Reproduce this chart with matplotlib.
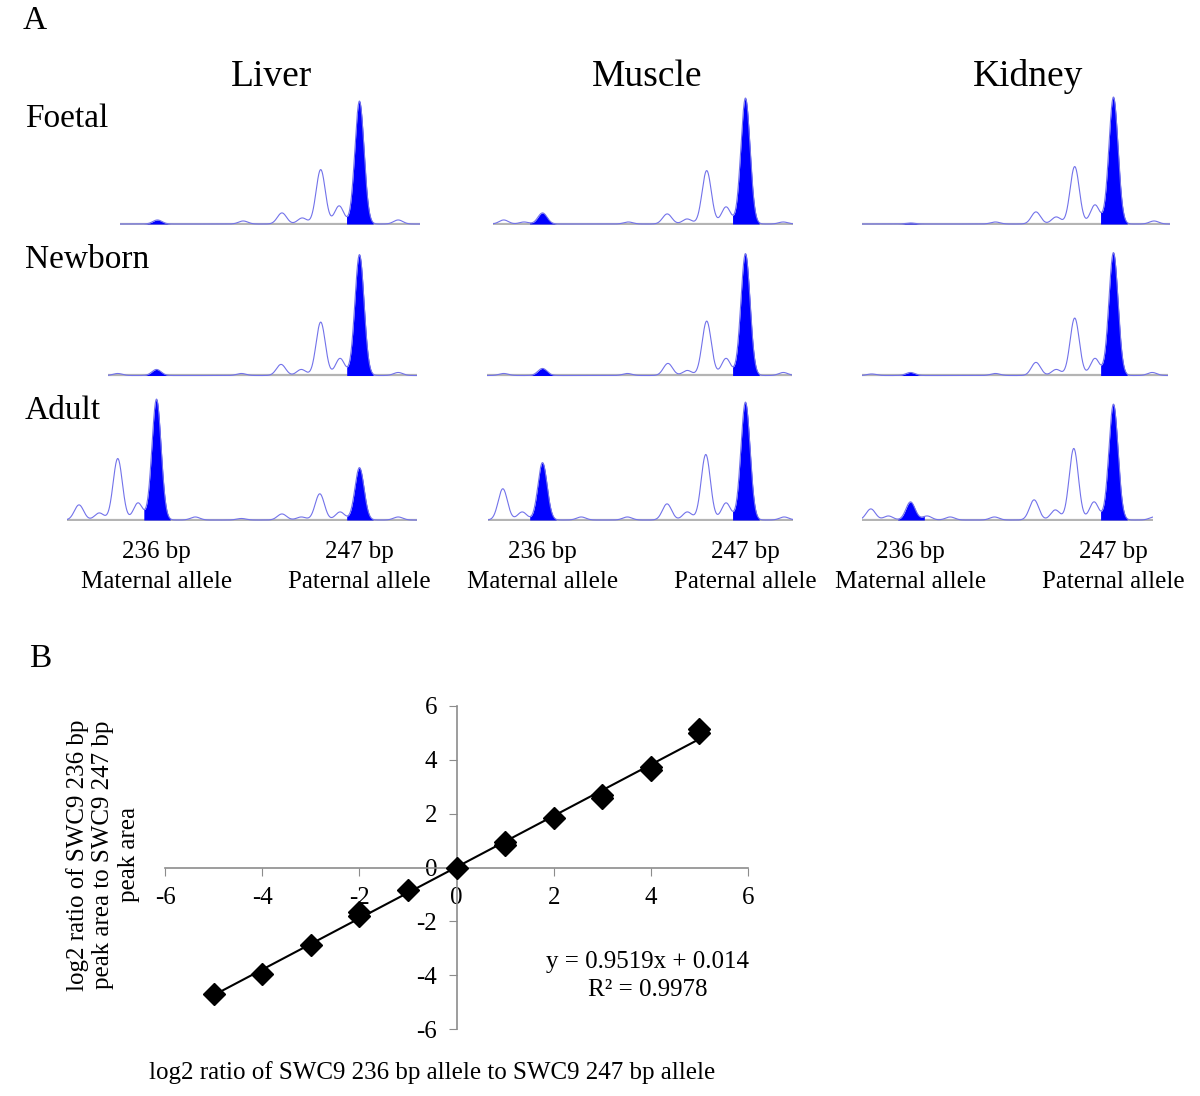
import numpy as np
import matplotlib
matplotlib.use("Agg")
import matplotlib.pyplot as plt

plt.rcParams['font.family'] = ['Liberation Serif', 'DejaVu Serif']
plt.rcParams['axes.unicode_minus'] = False

W, H = 1200, 1096

# ---- panel A: electropherogram peaks, (size in bp, relative height) ----
tissues = ["Liver", "Muscle", "Kidney"]
stages = ["Foetal", "Newborn", "Adult"]
maternal_bp = 236
paternal_bp = 247

liver_foetal = [(236.05, 4), (240.7, 3), (242.8, 11), (243.9, 6), (244.9, 54),
                (245.9, 18), (247.0, 122), (249.1, 4)]
muscle_foetal = [(233.9, 4), (235.0, 2), (236.0, 11), (240.65, 2), (242.76, 10),
                 (243.84, 5), (244.9, 53), (245.95, 17), (247.0, 125), (249.05, 2)]
kidney_foetal = [(236.0, 1), (240.6, 2), (242.8, 12), (243.9, 7), (244.9, 57),
                 (246.0, 19), (247.0, 126), (249.2, 3)]
liver_newborn = [(233.9, 2), (236.0, 6), (240.6, 2), (242.75, 11), (243.85, 6),
                 (244.9, 53), (245.95, 17), (247.0, 120), (249.1, 3)]
muscle_newborn = [(233.9, 2), (236.0, 7), (240.6, 2), (242.8, 12), (243.85, 5),
                  (244.9, 54), (245.95, 17), (247.0, 121), (249.05, 3)]
kidney_newborn = [(233.9, 1.5), (236.0, 3), (240.6, 2), (242.8, 13), (243.9, 6),
                  (244.9, 57), (246.0, 17), (247.0, 122), (249.1, 3)]
liver_adult = [(231.8, 15), (232.9, 7), (233.9, 61), (235.0, 17), (236.0, 120),
               (238.1, 3), (240.6, 1.5), (242.8, 6), (243.85, 3), (244.85, 26),
               (245.95, 8), (247.0, 52), (249.1, 3)]
muscle_adult = [(233.85, 31), (234.9, 8), (236.0, 57), (238.1, 3), (240.6, 3),
                (242.75, 16), (243.85, 8), (244.85, 65), (245.95, 17), (247.0, 117),
                (249.1, 3)]
kidney_adult = [(233.85, 11), (234.8, 4), (236.0, 18), (236.9, 4), (238.15, 3),
                (240.55, 3), (242.7, 20), (243.85, 10), (244.85, 71), (245.95, 18),
                (247.0, 115), (249.2, 3)]

traces = [[liver_foetal, muscle_foetal, kidney_foetal],
          [liver_newborn, muscle_newborn, kidney_newborn],
          [liver_adult, muscle_adult, kidney_adult]]

# ---- panel B: allele ratio calibration ----
expected_log2 = [-5, -4, -3, -2, -2, -1, 0, 1, 1, 2, 3, 3, 4, 4, 5, 5]
observed_log2 = [-4.70, -3.96, -2.88, -1.79, -1.65, -0.84, 0.0, 0.95, 0.82, 1.83,
                 2.69, 2.60, 3.75, 3.62, 5.16, 5.01]
slope, intercept, r2 = 0.9519, 0.014, 0.9978


def px_axes(fig, left, right, top, bottom):
    return fig.add_axes([left / W, 1 - bottom / H, (right - left) / W, (bottom - top) / H])


def ftext(fig, x, y, s, **kw):
    fig.text(x / W, 1 - y / H, s, **kw)


fig = plt.figure(figsize=(W / 100, H / 100), dpi=100)

# layout of panel A in pixels
col_x236 = [156.5, 542.5, 910.5]
px_per_bp = 18.45
row_base = [224, 375.5, 520]
panel_span = [[(120, 420), (493, 793), (862, 1170)],
              [(108, 417), (487, 792), (862, 1168)],
              [(67, 417), (488, 793), (862, 1153)]]

for r in range(3):
    for c in range(3):
        left, right = panel_span[r][c]
        ax = px_axes(fig, left, right, row_base[r] - 131, row_base[r] + 1)
        lo = maternal_bp + (left - col_x236[c]) / px_per_bp
        hi = maternal_bp + (right - col_x236[c]) / px_per_bp
        x = np.linspace(lo, hi, 1500)
        y = np.zeros_like(x)
        for pos, h in traces[r][c]:
            y += h * np.exp(-0.5 * ((x - pos) / 0.25) ** 2)
        ax.axhline(0, color='#b4b4b4', lw=1.6, zorder=1)
        for allele in (maternal_bp, paternal_bp):
            m = (x >= allele - 0.7) & (x <= allele + 0.75)
            ax.fill_between(x[m], 0, y[m], color='#0000ff', lw=0, zorder=2)
        ax.plot(x, y, color='#7272ea', lw=0.8, zorder=3)
        ax.set_xlim(lo, hi)
        ax.set_ylim(-1, 130)
        ax.axis('off')

ftext(fig, 35, 21, "A", fontsize=24, ha='center', va='center')
for c, name in enumerate(tissues):
    ftext(fig, [271, 647, 1028][c], 77, name, fontsize=27, ha='center', va='center')
for r, name in enumerate(stages):
    ftext(fig, 25, [119, 260, 411][r], name, fontsize=24, ha='left', va='center')

for c in range(3):
    xm = col_x236[c]
    xp = xm + (paternal_bp - maternal_bp) * px_per_bp
    ftext(fig, xm, 552, f"{maternal_bp} bp", fontsize=18, ha='center', va='center')
    ftext(fig, xm, 582, "Maternal allele", fontsize=18, ha='center', va='center')
    ftext(fig, xp, 552, f"{paternal_bp} bp", fontsize=18, ha='center', va='center')
    ftext(fig, xp, 582, "Paternal allele", fontsize=18, ha='center', va='center')

# ---- panel B ----
ftext(fig, 40, 659, "B", fontsize=24, ha='center', va='center')
axb = px_axes(fig, 165, 748, 706, 1029)
axb.set_xlim(-6, 6)
axb.set_ylim(-6, 6)
for side in ('top', 'right'):
    axb.spines[side].set_visible(False)
for side in ('left', 'bottom'):
    axb.spines[side].set_position(('data', 0))
    axb.spines[side].set_color('#8c8c8c')
    axb.spines[side].set_linewidth(1.2)
axb.set_xticks(range(-6, 7, 2))
axb.set_yticks(range(-6, 7, 2))
axb.tick_params(direction='out', length=6, color='#8c8c8c', labelsize=18, pad=8)
axb.patch.set_alpha(0)

xf = np.array([-5, 5])
axb.plot(xf, slope * xf + intercept, color='black', lw=1.5, zorder=3)
axb.plot(expected_log2, observed_log2, 'D', color='black', markersize=11, zorder=4,
         clip_on=False)

ftext(fig, 648, 962, f"y = {slope}x + {intercept}", fontsize=18, ha='center', va='center')
ftext(fig, 648, 990, f"R² = {r2}", fontsize=18, ha='center', va='center')
ftext(fig, 432, 1073, "log2 ratio of SWC9 236 bp allele to SWC9 247 bp allele",
      fontsize=18, ha='center', va='center')
ftext(fig, 103, 855, "log2 ratio of SWC9 236 bp\npeak area to SWC9 247 bp\npeak area",
      fontsize=18, ha='center', va='center', rotation=90, multialignment='center',
      linespacing=1.2)

fig.savefig("out.png", dpi=100)
